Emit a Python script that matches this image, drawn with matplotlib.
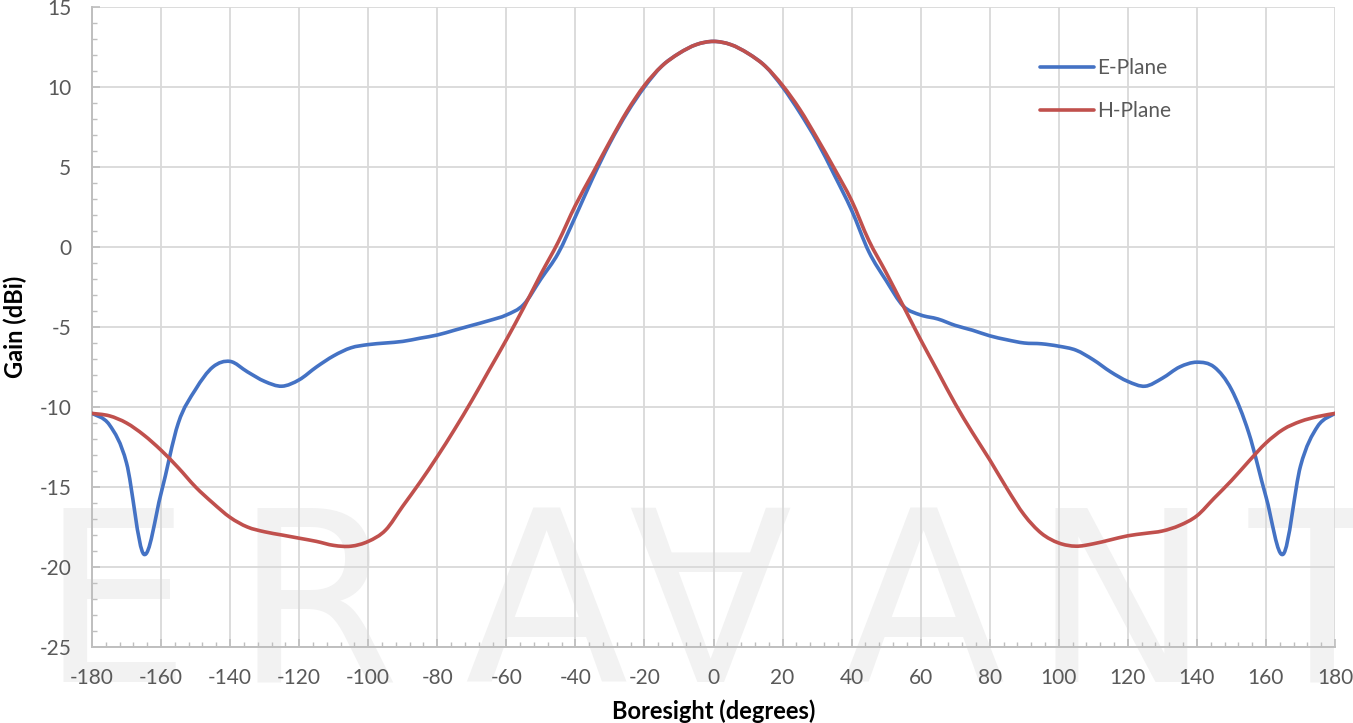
import matplotlib
matplotlib.use("Agg")
import matplotlib.pyplot as plt
from matplotlib.ticker import MultipleLocator
from matplotlib.path import Path
from matplotlib.patches import PathPatch
from matplotlib.lines import Line2D

# Boresight angle, degrees
angles = list(range(-180, 185, 5))

# Gain, dBi
e_plane = [-10.4, -11.1, -13.5, -19.2, -15.4, -11.0, -8.9, -7.5, -7.15, -7.8,
           -8.4, -8.7, -8.3, -7.5, -6.8, -6.3, -6.1, -6.0, -5.9, -5.7,
           -5.5, -5.2, -4.9, -4.6, -4.25, -3.6, -2.0, -0.4, 1.9, 4.3,
           6.5, 8.4, 10.0, 11.3, 12.1, 12.65, 12.85, 12.65, 12.1, 11.3,
           10.0, 8.4, 6.6, 4.5, 2.3, -0.3, -2.1, -3.7, -4.25, -4.5,
           -4.9, -5.2, -5.55, -5.8, -6.0, -6.05, -6.2, -6.45, -7.05, -7.8,
           -8.4, -8.7, -8.2, -7.5, -7.2, -7.5, -8.9, -11.6, -15.6, -19.2,
           -13.7, -11.2, -10.4]
h_plane = [-10.4, -10.55, -11.0, -11.75, -12.7, -13.8, -15.0, -16.0, -16.9, -17.5,
           -17.8, -18.0, -18.2, -18.4, -18.65, -18.7, -18.4, -17.7, -16.2, -14.7,
           -13.1, -11.4, -9.6, -7.7, -5.8, -3.8, -1.7, 0.3, 2.6, 4.6,
           6.6, 8.5, 10.1, 11.3, 12.1, 12.65, 12.85, 12.65, 12.1, 11.3,
           10.1, 8.6, 6.8, 4.9, 2.9, 0.4, -1.6, -3.7, -5.8, -7.8,
           -9.8, -11.6, -13.3, -15.1, -16.75, -17.9, -18.5, -18.7, -18.55, -18.3,
           -18.05, -17.9, -17.75, -17.4, -16.8, -15.7, -14.6, -13.4, -12.25, -11.4,
           -10.9, -10.6, -10.4]


def smooth_path(xs, ys):
    # excel-style smoothed line: bezier segments through every data point
    n = len(xs)
    verts = [(xs[0], ys[0])]
    codes = [Path.MOVETO]
    for i in range(n - 1):
        i0 = max(i - 1, 0)
        i3 = min(i + 2, n - 1)
        c1 = (xs[i] + (xs[i + 1] - xs[i0]) / 6, ys[i] + (ys[i + 1] - ys[i0]) / 6)
        c2 = (xs[i + 1] - (xs[i3] - xs[i]) / 6, ys[i + 1] - (ys[i3] - ys[i]) / 6)
        verts += [c1, c2, (xs[i + 1], ys[i + 1])]
        codes += [Path.CURVE4] * 3
    return Path(verts, codes)


plt.rcParams['font.family'] = ['Lato', 'DejaVu Sans']
plt.rcParams['axes.unicode_minus'] = False

fig = plt.figure(figsize=(13.53, 7.23), dpi=100)
ax = fig.add_axes([92 / 1353, 76 / 723, 1243 / 1353, 640 / 723])
ax.patch.set_alpha(0)

# watermark behind everything
wm_letters = ['E', 'R', 'A', '\u2200', 'A', 'N', 'T']
wm_x = [115, 317, 546, 710, 923, 1121, 1322]
for letter, x in zip(wm_letters, wm_x):
    fig.text(x / 1353, 41 / 723, letter, ha='center', va='baseline',
             fontsize=172, color='#f2f2f2', family='DejaVu Sans', zorder=-5)

series = [('E-Plane', e_plane, '#4472c4'), ('H-Plane', h_plane, '#c0504d')]
handles = []
for name, vals, col in series:
    patch = PathPatch(smooth_path(angles, vals), facecolor='none', edgecolor=col,
                      lw=2.6, capstyle='round', joinstyle='round', zorder=3)
    ax.add_patch(patch)
    handles.append(Line2D([], [], color=col, lw=2.6, solid_capstyle='round'))

ax.set_xlim(-180, 180)
ax.set_ylim(-25, 15)
ax.xaxis.set_major_locator(MultipleLocator(20))
ax.xaxis.set_minor_locator(MultipleLocator(4))
ax.yaxis.set_major_locator(MultipleLocator(5))
ax.yaxis.set_minor_locator(MultipleLocator(1))

ax.grid(True, which='major', color='#d9d9d9', lw=1.3)
ax.set_axisbelow(True)

for side in ['top', 'right']:
    ax.spines[side].set_visible(False)
for side in ['left', 'bottom']:
    ax.spines[side].set_color('#bfbfbf')
    ax.spines[side].set_linewidth(1.4)

ax.tick_params(which='major', direction='in', length=5.5, width=1.2,
               color='#bfbfbf', labelsize=15, labelcolor='#595959', pad=15)
ax.tick_params(which='minor', direction='in', length=3.5, width=1.0,
               color='#bfbfbf')
ax.tick_params(axis='y', which='major', pad=15)

ax.set_xlabel('Boresight (degrees)', fontsize=17, fontweight='bold', labelpad=8)
ax.set_ylabel('Gain (dBi)', fontsize=17, fontweight='bold')
ax.yaxis.set_label_coords((27 - 92) / 1243, 0.5)

leg = ax.legend(handles, [s[0] for s in series], loc='upper left',
                bbox_to_anchor=((1040 - 92) / 1243, 1 - 51 / 640),
                frameon=False, fontsize=15, handlelength=2.6, handletextpad=0.15,
                labelspacing=1.1, borderpad=0, borderaxespad=0)
for t in leg.get_texts():
    t.set_color('#595959')

fig.savefig('out.png', dpi=100)
